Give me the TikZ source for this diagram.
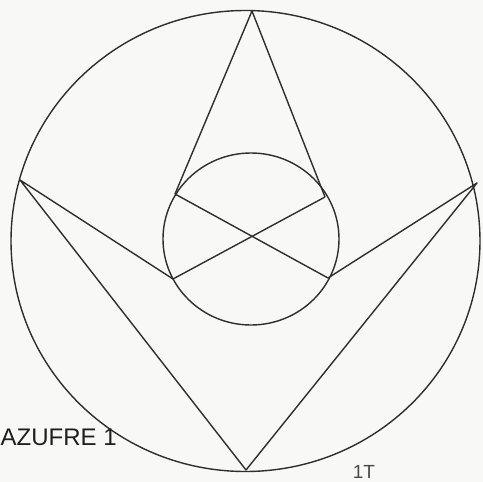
\documentclass[tikz,border=0pt]{standalone}
\usepackage{fontspec}
\setmainfont{Liberation Sans}
\usetikzlibrary{positioning}
\definecolor{Paper}{HTML}{F8F8F7}
\definecolor{Ink}{HTML}{2E2E2E}
\definecolor{Lead}{HTML}{4A4A4A}
\tikzset{
  stroke/.style={draw=Ink, line width=1.4pt, line join=round},
  caption/.style={font=\fontsize{24}{28}\selectfont, text=black!88, inner sep=0pt, anchor=base west},
  initials/.style={font=\fontsize{19}{22}\selectfont, text=Lead, inner sep=0pt},
}

\begin{document}
\begin{tikzpicture}[x=1pt, y=-1pt]
  \fill[Paper] (0,0) rectangle (483,482);
  \useasboundingbox (0,0) rectangle (483,482);
  % circles
  \draw[stroke] (245.5,241) ellipse [x radius=234.5pt, y radius=230.5pt];
  \draw[stroke] (251,239) ellipse [x radius=88pt, y radius=86pt];
  % points
  \coordinate (top) at (252,11);
  \coordinate (left) at (20,180);
  \coordinate (right) at (477,183);
  \coordinate (bottom) at (246,470);
  \coordinate (ul) at (175,194);
  \coordinate (ur) at (325,197);
  \coordinate (ll) at (173,279);
  \coordinate (lr) at (328,278);
  % lines
  \draw[stroke] (ul) -- (top) -- (ur);
  \draw[stroke] (ul) -- (lr);
  \draw[stroke] (ur) -- (ll);
  \draw[stroke] (ll) -- (left) -- (bottom) -- (right) -- (lr);
  \node[caption] (label) at (0.5,445) {AZUFRE 1};
  \node[initials] (sign) at (364,472) {1T};
\end{tikzpicture}
\end{document}
